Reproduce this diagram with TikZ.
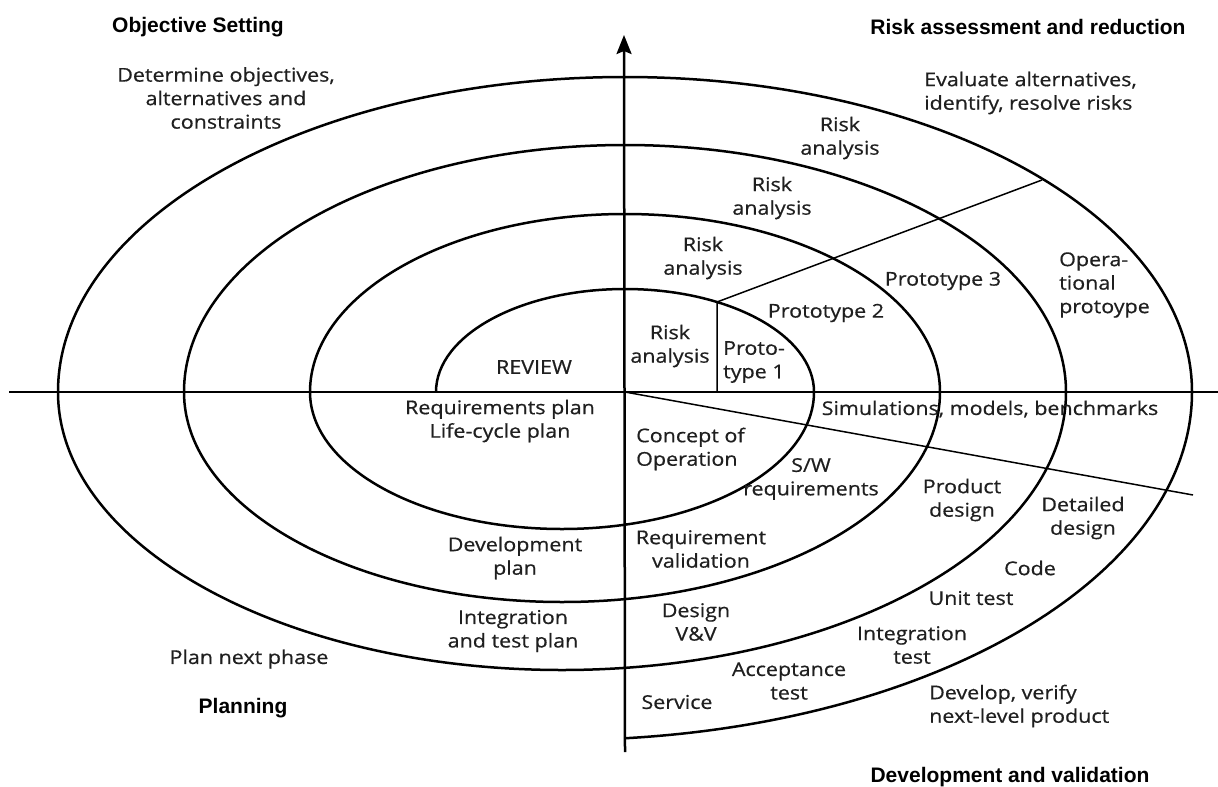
\documentclass[tikz,border=0pt]{standalone}
\usepackage{fontspec}
\setmainfont{Open Sans}
\newfontfamily\bodyfont{Open Sans}[FakeStretch=1.13, FakeBold=0.6]
\newfontfamily\headfont{Liberation Sans}
\usetikzlibrary{arrows.meta}
\begin{document}
\begin{tikzpicture}[x=1pt,y=-1pt,
  spiral/.style={line width=2.5pt},
  axis/.style={line width=2.5pt},
  divider/.style={line width=1.5pt},
  lbl/.style={inner sep=0pt, align=center, text=black!88, font=\bodyfont\fontsize{19}{23.5}\selectfont},
  lbll/.style={lbl, align=left, anchor=west},
  head/.style={inner sep=0pt, font=\headfont\bfseries\fontsize{21}{24}\selectfont}]
\useasboundingbox (0,0) rectangle (1218,787);

% axes
\coordinate (O) at (625,392);
\coordinate (xl) at (9,392);
\coordinate (xr) at (1218,392);
\coordinate (yb) at (625,752);
\coordinate (yt) at (624,35);
\draw[axis] (xl) -- (xr);
\draw[axis, -{Stealth[length=19pt,width=15pt,inset=3pt]}] (yb) -- (yt);

% the spiral: upper half-ellipses centred on the axis, lower ones shifted left
\draw[spiral] (436,392)
  arc[start angle=180, end angle=360, x radius=189, y radius=103]
  arc[start angle=0, end angle=180, x radius=252, y radius=137]
  arc[start angle=180, end angle=360, x radius=315, y radius=178]
  arc[start angle=0, end angle=180, x radius=378, y radius=210]
  arc[start angle=180, end angle=360, x radius=441, y radius=247]
  arc[start angle=0, end angle=180, x radius=504, y radius=278]
  arc[start angle=180, end angle=360, x radius=567, y radius=315]
  arc[start angle=0, end angle=84.26, x radius=630, y radius=348];

% prototype dividers
\coordinate (p0) at (717,392);
\coordinate (p1) at (717,302);
\coordinate (p2) at (1042,180);
\draw[divider] (p0) -- (p1) -- (p2);
% development divider
\coordinate (d1) at (1193,495);
\draw[divider] (O) -- (d1);

% quadrant titles
\node[head] (tOS) at (198,27) {Objective Setting};
\node[head] (tRA) at (1028,27) {Risk assessment and reduction};
\node[head] (tPL) at (243,708) {Planning};
\node[head] (tDV) at (1010,777) {Development and validation};

% upper-left quadrant
\node[lbl] (detobj) at (226,98) {Determine objectives,\\alternatives and\\constraints};
\node[lbl] (review) at (534,367) {REVIEW};

% upper-right quadrant
\node[lbll] (evalalt) at (924,93) {Evaluate alternatives,\\identify, resolve risks};
\node[lbl] (ra4) at (840,138) {Risk\\analysis};
\node[lbl] (ra3) at (772,198) {Risk\\analysis};
\node[lbl] (ra2) at (703,258) {Risk\\analysis};
\node[lbl] (ra1) at (670,346) {Risk\\analysis};
\node[lbll] (proto1) at (723,362) {Proto-\\type 1};
\node[lbl] (proto2) at (826,313) {Prototype 2};
\node[lbl] (proto3) at (943,281) {Prototype 3};
\node[lbll] (opproto) at (1059,285) {Opera-\\tional\\protoype};

% lower-left quadrant
\node[lbl] (reqplan) at (500,421) {Requirements plan\\Life-cycle plan};
\node[lbl] (devplan) at (515,558) {Development\\plan};
\node[lbl] (intplan) at (513,631) {Integration\\and test plan};
\node[lbl] (nextph) at (249,659) {Plan next phase};

% lower-right quadrant
\node[lbl] (sims) at (990,409) {Simulations, models, benchmarks};
\node[lbll] (concept) at (636,449) {Concept of\\Operation};
\node[lbl] (swreq) at (811,479) {S/W\\requirements};
\node[lbl] (proddes) at (962,500) {Product\\design};
\node[lbl] (detdes) at (1083,518) {Detailed\\design};
\node[lbl] (reqval) at (701,549) {Requirement\\validation};
\node[lbl] (code) at (1030,568) {Code};
\node[lbl] (unit) at (971,598) {Unit test};
\node[lbl] (desvv) at (696,622) {Design\\V\&V};
\node[lbl] (inttest) at (912,645) {Integration\\test};
\node[lbl] (acctest) at (789,681) {Acceptance\\test};
\node[lbl] (service) at (677,702) {Service};
\node[lbll] (devver) at (929,706) {Develop, verify\\next-level product};
\end{tikzpicture}
\end{document}
